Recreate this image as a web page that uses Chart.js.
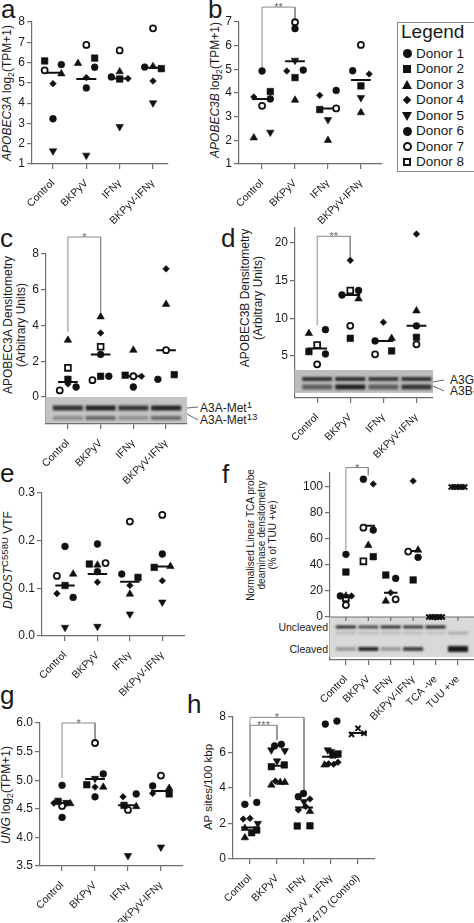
<!DOCTYPE html>
<html>
<head>
<meta charset="utf-8">
<script src="https://cdn.jsdelivr.net/npm/chart.js@4"></script>
<style>
html, body { margin: 0; padding: 0; width: 474px; height: 923px; overflow: hidden; background: #fff; }
canvas { position: absolute; left: 0; top: 0; }
.t { position: absolute; font-family: "Liberation Sans", Arial, sans-serif; color: #1a1a1a; white-space: nowrap; }
.rot { transform: translate(-50%, -50%) rotate(-90deg); text-align: center; line-height: 1.12; }
.lt { font-size: 26px; line-height: 26px; }
sub { font-size: 0.72em; vertical-align: -0.28em; line-height: 0; }
sup { font-size: 0.8em; vertical-align: 0.45em; line-height: 0; }
.sym { position: absolute; box-sizing: border-box; }
</style>
</head>
<body>

<!-- panel letters -->
<div class="t lt" style="left:1px;top:-4px">a</div>
<div class="t lt" style="left:208px;top:-4px">b</div>
<div class="t lt" style="left:0px;top:225px">c</div>
<div class="t lt" style="left:221px;top:225px">d</div>
<div class="t lt" style="left:0px;top:460px">e</div>
<div class="t lt" style="left:222px;top:461px">f</div>
<div class="t lt" style="left:0px;top:682px">g</div>
<div class="t lt" style="left:187px;top:691px">h</div>

<!-- y axis titles -->
<div class="t rot" style="left:8px;top:93px;font-size:12px"><i>APOBEC3A</i> log<sub>2</sub>(TPM+1)</div>
<div class="t rot" style="left:216px;top:90px;font-size:12px"><i>APOBEC3B</i> log<sub>2</sub>(TPM+1)</div>
<div class="t rot" style="left:15px;top:325px;font-size:12px">APOBEC3A Densitometry<br>(Arbitrary Units)</div>
<div class="t rot" style="left:252px;top:298px;font-size:12px">APOBEC3B Densitometry<br>(Arbitrary Units)</div>
<div class="t rot" style="left:9px;top:560px;font-size:12px"><i>DDOST</i><sup>C558U</sup> VTF</div>
<div class="t rot" style="left:262px;top:535px;font-size:10px">Normalised Linear TCA probe<br>deaminase densitometry<br>(% of TUU +ve)</div>
<div class="t rot" style="left:7px;top:795px;font-size:12px"><i>UNG</i> log<sub>2</sub>(TPM+1)</div>
<div class="t rot" style="left:208px;top:787px;font-size:11.5px">AP sites/100 kbp</div>

<!-- blot labels -->
<div class="t" style="left:200px;top:401px;font-size:12px;line-height:14px">A3A-Met<sup>1</sup></div>
<div class="t" style="left:200px;top:413px;font-size:12px;line-height:14px">A3A-Met<sup>13</sup></div>
<div class="t" style="left:450px;top:373px;font-size:12px;line-height:14px">A3G</div>
<div class="t" style="left:450px;top:384px;font-size:12px;line-height:14px">A3B-</div>
<div class="t" style="left:228px;top:620px;width:100px;text-align:right;font-size:10.5px;line-height:14px">Uncleaved</div>
<div class="t" style="left:228px;top:642px;width:100px;text-align:right;font-size:10.5px;line-height:14px">Cleaved</div>

<!-- legend box -->
<div style="position:absolute;left:397px;top:22px;width:100px;height:150px;border:1.5px solid #8a8a8a;box-sizing:border-box"></div>
<div class="t" style="left:401px;top:21px;font-size:19px;line-height:22px">Legend</div>
<div id="legendRows"></div>

<script>
const FONT = '"Liberation Sans", Arial, sans-serif';
const INK = '#1a1a1a';
const AXIS = '#6e6e6e';
const MARK = '#111';

// ---------- categories ----------
const groups4 = ['Control', 'BKPyV', 'IFNγ', 'BKPyV-IFNγ'];
const groupsF = ['Control', 'BKPyV', 'IFNγ', 'BKPyV-IFNγ', 'TCA -ve', 'TUU +ve'];
const groupsH = ['Control', 'BKPyV', 'IFNγ', 'BKPyV + IFNγ', 'T47D (Control)'];
const donors = ['Donor 1', 'Donor 2', 'Donor 3', 'Donor 4', 'Donor 5', 'Donor 6', 'Donor 7', 'Donor 8'];

// ---------- tick labels ----------
const ticksA = [1, 2, 3, 4, 5, 6, 7, 8];
const ticksB = [1, 2, 3, 4, 5, 6, 7];
const ticksC = [0, 2, 4, 6, 8];
const ticksD = [5, 10, 15, 20];
const ticksE = [0, 0.1, 0.2, 0.3];
const ticksF = [0, 20, 40, 60, 80, 100];
const ticksG = [3.5, 4.0, 4.5, 5.0, 5.5, 6.0];
const ticksH = [0, 2, 4, 6, 8];

// ---------- values: one row per donor (1..8), one column per group ----------
// a: APOBEC3A log2(TPM+1)
const a3aTpm = [
  [5.90, 5.77, 5.29, 5.78],
  [6.08, 6.22, 5.19, 5.70],
  [5.45, 5.96, 5.55, 5.81],
  [4.96, 5.26, 5.21, 5.09],
  [1.64, 1.43, 2.84, 4.01],
  [3.23, 4.75, null, null],
  [5.62, 6.87, 6.60, 7.69],
  [null, null, null, null]
];
const a3aTpmMedian = [5.50, 5.19, 5.22, 5.75];

// b: APOBEC3B log2(TPM+1)
const a3bTpm = [
  [4.93, 4.97, 4.11, 4.94],
  [4.06, 4.65, 3.30, 4.30],
  [2.11, 3.70, 2.00, 3.17],
  [3.83, 4.93, 3.90, 4.80],
  [2.34, 5.38, 2.87, 3.80],
  [3.75, 6.72, null, null],
  [3.46, 6.99, 3.35, 6.03],
  [null, null, null, null]
];
const a3bTpmMedian = [3.75, 5.34, 3.34, 4.55];

// c: APOBEC3A densitometry
const a3aDens = [
  [0.56, 1.16, 0.56, 0.99],
  [0.99, 1.16, 1.22, 1.25],
  [3.18, 4.49, 2.62, 5.19],
  [0.73, 3.58, 1.16, 7.17],
  [null, null, null, null],
  [null, 2.38, null, null],
  [0.37, 0.94, 1.16, 2.62],
  [1.63, 2.81, null, null]
];
const a3aDensMedian = [0.84, 2.38, 1.16, 2.62];
const a3aBandMet1 = [0.80, 0.88, 0.78, 0.88];
const a3aBandMet13 = [0.30, 0.50, 0.28, 0.50];

// d: APOBEC3B densitometry
const a3bDens = [
  [8.5, 13.1, 7.0, 9.0],
  [5.58, 7.35, 5.67, 7.48],
  [8.0, 12.6, 7.35, 11.0],
  [null, 17.7, 9.48, 21.2],
  [null, null, null, null],
  [5.27, 13.7, null, null],
  [3.89, 9.0, 5.22, 6.55],
  [6.46, 13.7, null, null]
];
const a3bDensMedian = [6.0, 13.1, 7.0, 9.0];
const a3gBand = [0.80, 0.82, 0.75, 0.80];
const a3bBand = [0.55, 0.90, 0.55, 0.78];

// e: DDOST C558U VTF
const ddostVtf = [
  [0.188, 0.193, 0.130, 0.172],
  [0.106, 0.151, 0.123, 0.144],
  [0.130, 0.149, 0.088, 0.146],
  [0.089, 0.113, 0.106, 0.116],
  [0.018, 0.020, 0.046, 0.071],
  [0.081, 0.135, null, null],
  [0.126, 0.153, 0.240, 0.254],
  [null, null, null, null]
];
const ddostVtfMedian = [0.106, 0.130, 0.114, 0.146];

// f: TCA probe deaminase densitometry (% of TUU +ve)
const tcaDeam = [
  [48.2, 106.0, 29.7, 45.9],
  [34.6, 46.4, 32.3, 28.5],
  [16.2, 55.1, 12.3, 51.5],
  [16.2, 102.3, 18.7, 104.6],
  [null, null, null, null],
  [16.2, 66.9, null, null],
  [9.2, 68.7, 13.6, 50.3],
  [14.4, 42.8, null, null]
];
const tcaNegCtrl = [0, 0, 0, 0, 0, 0];
const tuuPosCtrl = [100, 100, 100, 100, 100, 100];
const tcaDeamMedian = [15.6, 70.2, 18.7, 50.8, 0, 100];
const uncleavedBand = [0.85, 0.70, 0.85, 0.80, 0.90, 0.0];
const faintBand = [0.14, 0.14, 0.14, 0.14, 0.10, 0.22];
const cleavedBand = [0.30, 0.88, 0.30, 0.75, 0.0, 0.95];

// g: UNG log2(TPM+1)
const ungTpm = [
  [4.91, 5.11, 4.76, 4.90],
  [4.63, 4.92, 4.56, 4.76],
  [4.59, 4.88, 4.54, 4.86],
  [4.60, 4.88, 4.71, 4.77],
  [4.61, 5.03, 3.68, 3.83],
  [4.35, 4.71, null, null],
  [4.55, 5.65, 4.48, 5.08],
  [null, null, null, null]
];
const ungTpmMedian = [4.60, 5.02, 4.56, 4.81];

// h: AP sites / 100 kbp, one list per marker per group
const apCircle = [[3.08, 3.19], [6.37, 6.46], [3.51, 3.69], [7.60, 7.77], []];
const apSquare = [[1.48, 1.63], [5.20, 5.30], [1.86, 1.87], [5.86, 5.92], []];
const apTriangle = [[1.73, 1.20], [4.17, 4.32, 4.32], [2.68], [5.30], []];
const apDiamond = [[2.25, 2.29], [4.39], [3.38, 2.76, 2.96], [5.36, 5.34, 5.45], []];
const apDownTri = [[2.00], [6.14, 6.10, 5.52], [3.23], [6.14, 6.05], []];
const apT47D = [7.36, 7.02, 7.08];
const apMedian = [1.77, 5.26, 2.90, 5.76, 7.10];

// ---------- horizontal scatter of points inside each group (layout only) ----------
const jitA = [[0.25, 0.25, -0.25, -0.25], [-0.25, 0.25, 0, 0.25], [0.25, -0.25, 0, 0], [0, 0, 0.25, 0],
  [0, 0, 0, 0], [0, 0, 0, 0], [-0.25, 0, 0, 0], [0, 0, 0, 0]];
const jitB = [[0, 0.25, 0.25, -0.25], [0.25, 0, -0.25, 0], [-0.25, 0, 0, 0], [-0.25, -0.25, -0.25, 0.25],
  [0.25, 0, 0, 0], [0.25, 0, 0, 0], [0, 0, 0.25, 0], [0, 0, 0, 0]];
const jitC = [[0.25, 0.25, 0, -0.25], [0, 0, -0.25, 0.25], [0, 0, 0, 0], [0, 0, 0.25, 0],
  [0, 0, 0, 0], [0, 0, 0, 0], [-0.25, -0.25, 0, 0], [0, 0, 0, 0]];
const jitD = [[0.25, -0.25, -0.25, 0], [-0.25, 0, 0.25, 0], [-0.25, 0.25, 0.25, 0], [0, 0, 0, 0],
  [0, 0, 0, 0], [0.25, 0.25, 0, 0], [0, 0, -0.25, 0], [0, 0, 0, 0]];
const jitE = [[0, 0, -0.25, 0], [0, -0.25, 0.25, -0.25], [0.25, 0, 0, 0.25], [-0.25, 0, 0, 0],
  [0, 0, 0, 0], [0.25, 0, 0, 0], [-0.25, 0.25, 0, 0], [0, 0, 0, 0]];
const jitF = [[0, -0.22, 0.22, 0.22], [0, 0.22, -0.22, 0], [0, 0, -0.22, 0.22], [0.25, 0.22, 0, 0],
  [0, 0, 0, 0], [-0.25, 0.22, 0, 0], [0, -0.22, 0.22, -0.22], [0, -0.22, 0, 0]];
const jitCtrlF = [-0.3, -0.18, -0.06, 0.06, 0.18, 0.3];
const jitG = [[0, 0.25, 0.25, -0.25], [-0.12, -0.25, -0.12, 0.25], [0.25, 0.25, 0.25, 0.25], [-0.25, 0, -0.15, -0.25],
  [0.13, 0, 0, 0], [0, 0, 0, 0], [0, 0, 0, 0], [0, 0, 0, 0]];
const jitHCircle = [[-0.19, 0.25], [-0.09, 0.16], [-0.21, -0.02], [-0.21, 0.22], []];
const jitHSquare = [[0.06, 0.25], [-0.21, 0.27], [-0.25, 0.22], [0.07, 0.26], []];
const jitHTriangle = [[-0.19, -0.19], [-0.21, 0.12, 0.29], [0.22], [-0.24], []];
const jitHDiamond = [[-0.25, 0], [-0.06], [0.22, -0.21, 0.06], [-0.09, 0.1, 0.26], []];
const jitHDownTri = [[0.29], [-0.21, 0.29, 0], [0], [-0.12, 0], []];
const jitHT47D = [0, -0.24, 0.22];

// ---------- marker styles ----------
const donorStyles = [
  { pointStyle: 'circle', radius: 3.4 },
  { pointStyle: 'rect', radius: 4.6 },
  { pointStyle: 'triangle', radius: 4.3 },
  { pointStyle: 'rectRot', radius: 3.3 },
  { pointStyle: 'triangle', radius: 4.3, rotation: 180 },
  { pointStyle: 'circle', radius: 3.4 },
  { pointStyle: 'circle', radius: 3, open: true },
  { pointStyle: 'rect', radius: 4.1, open: true }
];
const crossStyle = { pointStyle: 'crossRot', radius: 3.6, width: 2 };

function pointsDataset(data, style) {
  return {
    data: data, clip: false, order: 1, showLine: false,
    pointStyle: style.pointStyle, pointRadius: style.radius, pointRotation: style.rotation || 0,
    pointBackgroundColor: style.open ? '#fff' : MARK, pointBorderColor: MARK,
    pointBorderWidth: style.width || (style.open ? 1.8 : 0.6)
  };
}

function donorDatasets(rows, jit) {
  return rows.map((vals, d) => {
    const data = [];
    vals.forEach((v, g) => { if (v !== null) data.push({ x: g + jit[d][g], y: v }); });
    return pointsDataset(data, donorStyles[d]);
  });
}

function groupListDataset(lists, jit, style) {
  const data = [];
  lists.forEach((vals, g) => vals.forEach((v, k) => data.push({ x: g + jit[g][k], y: v })));
  return pointsDataset(data, style);
}

function flatDataset(vals, group, jit, style) {
  return pointsDataset(vals.map((v, k) => ({ x: group + jit[k], y: v })), style);
}

function medianDataset(meds, half) {
  const data = [];
  meds.forEach((m, g) => data.push({ x: g - half, y: m }, { x: g + half, y: m }, { x: g + half, y: null }));
  return { type: 'line', data: data, borderColor: MARK, borderWidth: 2, pointRadius: 0, clip: false, order: 5, spanGaps: false };
}

function bracketDataset(b) {
  return {
    type: 'line', clip: false, order: 6, pointRadius: 0, borderColor: '#8a8a8a', borderWidth: 1,
    data: [{ x: b.from, y: b.left }, { x: b.from, y: b.top }, { x: b.to, y: b.top }, { x: b.to, y: b.right }]
  };
}

function drawBlot(chart, blot) {
  const { ctx, chartArea: ca, scales: { x, y } } = chart;
  const top = y.getPixelForValue(blot.top);
  const bot = y.getPixelForValue(blot.bottom);
  ctx.save();
  ctx.fillStyle = blot.bg;
  ctx.fillRect(ca.left - 0.6, top, ca.right - ca.left + 0.6, bot - top);
  ctx.filter = 'blur(0.9px)';
  blot.bands.forEach(b => {
    b.dark.forEach((k, i) => {
      if (k <= 0) return;
      const cx = x.getPixelForValue(i);
      const h = b.h + (b.grow ? b.grow[i] : 0);
      ctx.fillStyle = 'rgba(15,15,15,' + k + ')';
      ctx.fillRect(cx - blot.lane / 2, top + b.at - h / 2, blot.lane, h);
    });
  });
  ctx.filter = 'none';
  ctx.strokeStyle = '#555';
  ctx.lineWidth = 0.9;
  (blot.connectors || []).forEach(c => {
    ctx.beginPath();
    ctx.moveTo(ca.right, top + c[0]);
    ctx.lineTo(ca.right + 11, top + c[1]);
    ctx.stroke();
  });
  if (blot.zeroAxis) {
    ctx.strokeStyle = AXIS;
    ctx.lineWidth = 1.2;
    ctx.beginPath();
    ctx.moveTo(ca.left, top);
    ctx.lineTo(ca.right, top);
    blot.dark0.forEach((_, i) => {
      const cx = x.getPixelForValue(i);
      ctx.moveTo(cx, top);
      ctx.lineTo(cx, top + 4);
    });
    ctx.stroke();
  }
  ctx.restore();
}

const extras = {
  id: 'extras',
  beforeDatasetsDraw(chart, args, o) {
    if (o.blot) drawBlot(chart, o.blot);
  },
  afterDatasetsDraw(chart, args, o) {
    const { ctx, scales: { x, y } } = chart;
    ctx.save();
    ctx.fillStyle = '#666';
    ctx.font = '11px ' + FONT;
    ctx.textAlign = 'center';
    ctx.textBaseline = 'alphabetic';
    (o.brackets || []).forEach(b => {
      ctx.fillText(b.label, x.getPixelForValue((b.from + b.to) / 2), y.getPixelForValue(b.top) + 4);
    });
    ctx.restore();
  }
};

const W = 520, H = 923;

function buildPanel(p) {
  const canvas = document.createElement('canvas');
  canvas.width = W; canvas.height = H;
  document.body.appendChild(canvas);
  const datasets = p.points.slice();
  datasets.push(medianDataset(p.median, p.medHalf || 0.3));
  (p.brackets || []).forEach(b => datasets.push(bracketDataset(b)));
  const yw = Math.min(30, p.l);          // room for y tick labels
  const xh = Math.min(70, H - p.b - 1);  // room for rotated x tick labels
  return new Chart(canvas, {
    type: 'scatter',
    data: { datasets: datasets },
    options: {
      responsive: false, animation: false, events: [],
      layout: { padding: { left: p.l - yw, right: W - p.r, top: p.t, bottom: H - p.b - xh } },
      plugins: { legend: { display: false }, tooltip: { enabled: false }, extras: { blot: p.blot, brackets: p.brackets } },
      scales: {
        x: {
          type: 'linear', min: p.xMin, max: p.xMax,
          afterBuildTicks: s => { s.ticks = p.labels.map((_, i) => ({ value: i })); },
          afterFit: s => { s.height = xh; s.paddingLeft = 0; s.paddingRight = 0; },
          ticks: {
            autoSkip: false, minRotation: 45, maxRotation: 45, padding: 8, color: INK,
            font: { family: FONT, size: 10.5 }, callback: v => p.labels[Math.round(v)]
          },
          grid: { drawOnChartArea: false, tickLength: 5, color: AXIS, lineWidth: 1.2 },
          border: { color: AXIS, width: 1.2 }
        },
        y: {
          type: 'linear', min: p.yMin, max: p.yMax,
          afterBuildTicks: s => { s.ticks = p.yTicks.map(v => ({ value: v })); },
          afterFit: s => { s.width = yw; s.paddingTop = 0; s.paddingBottom = 0; },
          ticks: {
            padding: 2, color: INK, font: { family: FONT, size: 12 },
            callback: v => p.yFmt ? p.yFmt(v) : String(v)
          },
          grid: { drawOnChartArea: false, tickLength: 5, color: AXIS, lineWidth: 1.2 },
          border: { color: AXIS, width: 1.2 }
        }
      }
    },
    plugins: [extras]
  });
}

// a
buildPanel({
  l: 32, r: 168, t: 22, b: 164, xMin: -0.63, xMax: 3.45, yMin: 1, yMax: 8, yTicks: ticksA,
  labels: groups4, points: donorDatasets(a3aTpm, jitA), median: a3aTpmMedian
});
// b
buildPanel({
  l: 239, r: 382, t: 22, b: 164, xMin: -0.7, xMax: 3.64, yMin: 1, yMax: 7, yTicks: ticksB,
  labels: groups4, points: donorDatasets(a3bTpm, jitB), median: a3bTpmMedian,
  brackets: [{ from: 0, to: 1, top: 7.63, left: 5.06, right: 7.13, label: '**' }]
});
// c
buildPanel({
  l: 46, r: 187, t: 254, b: 424, xMin: -0.67, xMax: 3.64, yMin: -1.51, yMax: 8, yTicks: ticksC,
  labels: groups4, points: donorDatasets(a3aDens, jitC), median: a3aDensMedian,
  brackets: [{ from: 0, to: 1, top: 8.95, left: 3.64, right: 4.76, label: '*' }],
  blot: {
    top: 0, bottom: -1.45, lane: 30, bg: '#c4c4c4',
    bands: [{ at: 11, h: 5, dark: a3aBandMet1 }, { at: 21, h: 4, dark: a3aBandMet13 }],
    connectors: [[11, 10], [17, 23]]
  }
});
// d
buildPanel({
  l: 295, r: 433, t: 228, b: 398, xMin: -0.67, xMax: 3.5, yMin: -0.58, yMax: 22, yTicks: ticksD,
  labels: groups4, points: donorDatasets(a3bDens, jitD), median: a3bDensMedian,
  brackets: [{ from: 0, to: 1, top: 20.9, left: 9.1, right: 18.1, label: '**' }],
  blot: {
    top: 3.14, bottom: 0.1, lane: 30, bg: '#bdbdbd',
    bands: [{ at: 9, h: 4, dark: a3gBand }, { at: 17, h: 5, dark: a3bBand }],
    connectors: [[12, 10], [16, 21]]
  }
});
// e
buildPanel({
  l: 42, r: 185, t: 493, b: 636, xMin: -0.71, xMax: 3.7, yMin: 0, yMax: 0.3, yTicks: ticksE,
  yFmt: v => v.toFixed(1),
  labels: groups4, points: donorDatasets(ddostVtf, jitE), median: ddostVtfMedian
});
// f
buildPanel({
  l: 330, r: 490, t: 473, b: 660, xMin: -0.71, xMax: 6.43, yMin: -33.1, yMax: 110.8, yTicks: ticksF,
  labels: groupsF,
  points: donorDatasets(tcaDeam, jitF).concat([
    flatDataset(tcaNegCtrl, 4, jitCtrlF, crossStyle),
    flatDataset(tuuPosCtrl, 5, jitCtrlF, crossStyle)
  ]),
  median: tcaDeamMedian,
  brackets: [{ from: 0, to: 1, top: 115, left: 51.5, right: 109, label: '*' }],
  blot: {
    top: 0, bottom: -30.8, lane: 20, bg: '#d9d9d9', zeroAxis: true, dark0: groupsF,
    bands: [{ at: 10, h: 3, dark: uncleavedBand }, { at: 16, h: 3, dark: faintBand },
      { at: 32, h: 4, dark: cleavedBand, grow: [0, 0, 0, 0, 0, 2] }]
  }
});
// g
buildPanel({
  l: 40, r: 183, t: 723, b: 866, xMin: -0.67, xMax: 3.67, yMin: 3.5, yMax: 6.0, yTicks: ticksG,
  yFmt: v => v.toFixed(1),
  labels: groups4, points: donorDatasets(ungTpm, jitG), median: ungTpmMedian,
  brackets: [{ from: 0, to: 1, top: 6.0, left: 5.04, right: 5.7, label: '*' }]
});
// h
buildPanel({
  l: 233, r: 375, t: 717, b: 859, xMin: -0.63, xMax: 4.63, yMin: 0, yMax: 8, yTicks: ticksH,
  labels: groupsH, medHalf: 0.33,
  points: [
    groupListDataset(apCircle, jitHCircle, donorStyles[0]),
    groupListDataset(apSquare, jitHSquare, donorStyles[1]),
    groupListDataset(apTriangle, jitHTriangle, donorStyles[2]),
    groupListDataset(apDiamond, jitHDiamond, donorStyles[3]),
    groupListDataset(apDownTri, jitHDownTri, donorStyles[4]),
    flatDataset(apT47D, 4, jitHT47D, crossStyle)
  ],
  median: apMedian,
  brackets: [
    { from: 0, to: 2, top: 7.98, left: 3.5, right: 3.89, label: '*' },
    { from: 0, to: 1, top: 7.53, left: 3.5, right: 6.7, label: '***' }
  ]
});

// legend rows
const symCss = [
  'width:9px;height:9px;border-radius:50%;background:#111;margin:-4.5px 0 0 -4.5px',
  'width:8px;height:8px;background:#111;margin:-4px 0 0 -4px',
  'width:0;height:0;border-left:5px solid transparent;border-right:5px solid transparent;border-bottom:9px solid #111;margin:-5px 0 0 -5px',
  'width:6px;height:6px;background:#111;transform:rotate(45deg);margin:-3px 0 0 -3px',
  'width:0;height:0;border-left:5px solid transparent;border-right:5px solid transparent;border-top:9px solid #111;margin:-4px 0 0 -5px',
  'width:9px;height:9px;border-radius:50%;background:#111;margin:-4.5px 0 0 -4.5px',
  'width:9px;height:9px;border-radius:50%;border:2px solid #111;background:#fff;margin:-4.5px 0 0 -4.5px',
  'width:8px;height:8px;border:2px solid #111;background:#fff;margin:-4px 0 0 -4px'
];
const rows = document.getElementById('legendRows');
donors.forEach((name, i) => {
  const cy = 53.5 + i * 15.5;
  const s = document.createElement('div');
  s.className = 'sym';
  s.style.cssText = 'left:407px;top:' + cy + 'px;' + symCss[i];
  rows.appendChild(s);
  const t = document.createElement('div');
  t.className = 't';
  t.style.cssText = 'left:416px;top:' + (cy - 8) + 'px;font-size:13.5px;line-height:16px';
  t.textContent = name;
  rows.appendChild(t);
});
</script>
</body>
</html>
